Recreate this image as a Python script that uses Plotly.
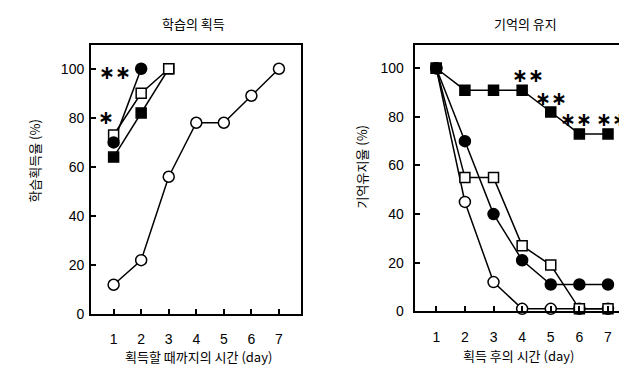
import plotly.graph_objects as go

# ---------- data ----------
days = [1, 2, 3, 4, 5, 6, 7]

# left panel: 학습의 획득
acq_open_circle = [12, 22, 56, 78, 78, 89, 100]
acq_filled_circle = [70, 100]
acq_open_square = [73, 90, 100]
acq_filled_square = [64, 82, 100]

# right panel: 기억의 유지
ret_filled_square = [100, 91, 91, 91, 82, 73, 73]
ret_filled_circle = [100, 70, 40, 21, 11, 11, 11]
ret_open_square = [100, 55, 55, 27, 19, 1, 1]
ret_open_circle = [100, 45, 12, 1, 1, 1, 1]

y_ticks = [0, 20, 40, 60, 80, 100]

FONT = "Liberation Sans, Arial, sans-serif"
KFONT = "Noto Sans CJK KR, sans-serif"

fig = go.Figure()

series_left = [
    (acq_open_circle, "circle", "white"),
    (acq_filled_square, "square", "black"),
    (acq_open_square, "square", "white"),
    (acq_filled_circle, "circle", "black"),
]
series_right = [
    (ret_open_circle, "circle", "white"),
    (ret_open_square, "square", "white"),
    (ret_filled_circle, "circle", "black"),
    (ret_filled_square, "square", "black"),
]

for (xa, ya), series in (("x", "y"), series_left), (("x2", "y2"), series_right):
    for vals, sym, fill in series:
        fig.add_trace(go.Scatter(
            x=days[:len(vals)], y=vals, mode="lines",
            line=dict(color="black", width=1.5),
            xaxis=xa, yaxis=ya, showlegend=False, hoverinfo="skip"))
    for vals, sym, fill in series:
        fig.add_trace(go.Scatter(
            x=days[:len(vals)], y=vals, mode="markers",
            marker=dict(symbol=sym, size=11 if sym == "circle" else 10,
                        color=fill, line=dict(color="black", width=1.5)),
            xaxis=xa, yaxis=ya, showlegend=False, cliponaxis=False))

axis_common = dict(
    showline=True, linecolor="black", linewidth=2, mirror=True,
    ticks="inside", ticklen=5, tickwidth=1.5, tickcolor="black",
    showgrid=False, zeroline=False,
    tickfont=dict(family=FONT, size=14, color="black"),
)

fig.update_layout(
    width=627, height=369,
    margin=dict(l=0, r=0, t=0, b=0),
    paper_bgcolor="white", plot_bgcolor="white",
    xaxis=dict(domain=[0.1324, 0.4673], range=[0.18, 7.8],
               tickvals=days, ticklabelstandoff=11, **axis_common),
    yaxis=dict(domain=[0.1518, 0.897], range=[0, 109.6],
               tickvals=y_ticks, ticklabelstandoff=2, **axis_common),
    xaxis2=dict(domain=[0.6486, 0.9825], range=[0.245, 7.56],
                tickvals=days, ticklabelstandoff=12, anchor="y2", **axis_common),
    yaxis2=dict(domain=[0.1599, 0.897], range=[0, 109.5],
                tickvals=y_ticks, ticklabelstandoff=6, anchor="x2", **axis_common),
)

ann = []
def text(x, y, s, size=13, angle=0):
    ann.append(dict(x=x, y=y, xref="paper", yref="paper", text=s, showarrow=False,
                    textangle=angle, font=dict(family=KFONT, size=size, color="black"),
                    xanchor="center", yanchor="middle"))

# titles
text(185 / 627, 1 - 16 / 369, "학습의 획득")
text(517 / 627, 1 - 16 / 369, "기억의 유지")
# axis titles
text(190 / 627, 1 - 356 / 369, "획득할 때까지의 시간 (day)")
text(510 / 627, 1 - 355 / 369, "획득 후의 시간 (day)")
text(27 / 627, 1 - 157 / 369, "학습획득율 (%)", angle=-90)
text(353 / 627, 1 - 163 / 369, "기억유지율 (%)", angle=-90)

# significance asterisks
STAR = "<b>\u2217\u2217</b>"
def star(x, y, s, xr, yr):
    ann.append(dict(x=x, y=y, xref=xr, yref=yr, text=s, showarrow=False,
                    font=dict(family="DejaVu Sans", size=19, color="black"),
                    xanchor="center", yanchor="middle"))

star(1.04, 98.5, STAR, "x", "y")
star(0.73, 80.2, "<b>\u2217</b>", "x", "y")
star(4.2, 97.3, STAR, "x2", "y2")
star(5.01, 87.7, STAR, "x2", "y2")
star(5.88, 79.2, STAR, "x2", "y2")
star(7.14, 79.2, STAR, "x2", "y2")

fig.update_layout(annotations=ann)
fig.write_html("out.html")
